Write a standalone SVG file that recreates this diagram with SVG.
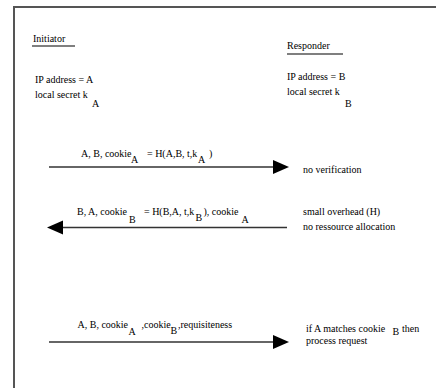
<svg xmlns="http://www.w3.org/2000/svg" width="436" height="388" viewBox="0 0 436 388">
<style>
text{font-family:"Liberation Serif","Times New Roman",serif;font-size:10px;fill:#000}
.u{stroke:#555;stroke-width:1.5}
.c{stroke:#333;stroke-width:1.3;fill:none}
.h{fill:#000}
</style>
<rect width="436" height="388" fill="#fff"/>
<g id="frame"><path d="M14,388 V7 H436" stroke="#555" stroke-width="2" fill="none"/></g>
<g id="initiator">
<text x="33" y="41.5">Initiator</text>
<line class="u" x1="32" y1="46" x2="75" y2="46"/>
<text x="35" y="83">IP address = A</text>
<text x="35" y="98">local secret k</text>
<text x="92" y="106.5">A</text>
</g>
<g id="responder">
<text x="287" y="49">Responder</text>
<line class="u" x1="287" y1="54" x2="343" y2="54"/>
<text x="287" y="80">IP address = B</text>
<text x="287" y="95">local secret k</text>
<text x="345" y="107">B</text>
</g>
<g id="connectors">
<line class="c" x1="49" y1="167" x2="274" y2="167"/>
<polygon class="h" points="273,160 289,167 273,174"/>
<line class="c" x1="62" y1="227.5" x2="287" y2="227.5"/>
<polygon class="h" points="63,220.5 47,227.5 63,234.5"/>
<line class="c" x1="49" y1="342" x2="274" y2="342"/>
<polygon class="h" points="273,335 289,342 273,349"/>
</g>
<g id="msg1">
<text x="81" y="156.5">A, B, cookie</text>
<text x="131" y="163">A</text>
<text x="147" y="156.5">= H(A,B, t,k</text>
<text x="198" y="162.5">A</text>
<text x="209" y="156.5">)</text>
<text x="303" y="172.5">no verification</text>
</g>
<g id="msg2">
<text x="77" y="214.5">B, A, cookie</text>
<text x="129" y="222.5">B</text>
<text x="144" y="214.5">= H(B,A, t,k</text>
<text x="195.5" y="221">B</text>
<text x="203.5" y="214.5">), cookie</text>
<text x="241.5" y="222.5">A</text>
<text x="303" y="215">small overhead (H)</text>
<text x="303" y="230">no ressource allocation</text>
</g>
<g id="msg3">
<text x="77.5" y="328">A, B, cookie</text>
<text x="128.5" y="334.5">A</text>
<text x="141.5" y="328">,cookie</text>
<text x="170.5" y="333.5">B</text>
<text x="178" y="328">,requisiteness</text>
<text x="306" y="332">if A matches cookie</text>
<text x="392.5" y="334.5">B</text>
<text x="402" y="332">then</text>
<text x="306" y="344">process request</text>
</g>
</svg>
